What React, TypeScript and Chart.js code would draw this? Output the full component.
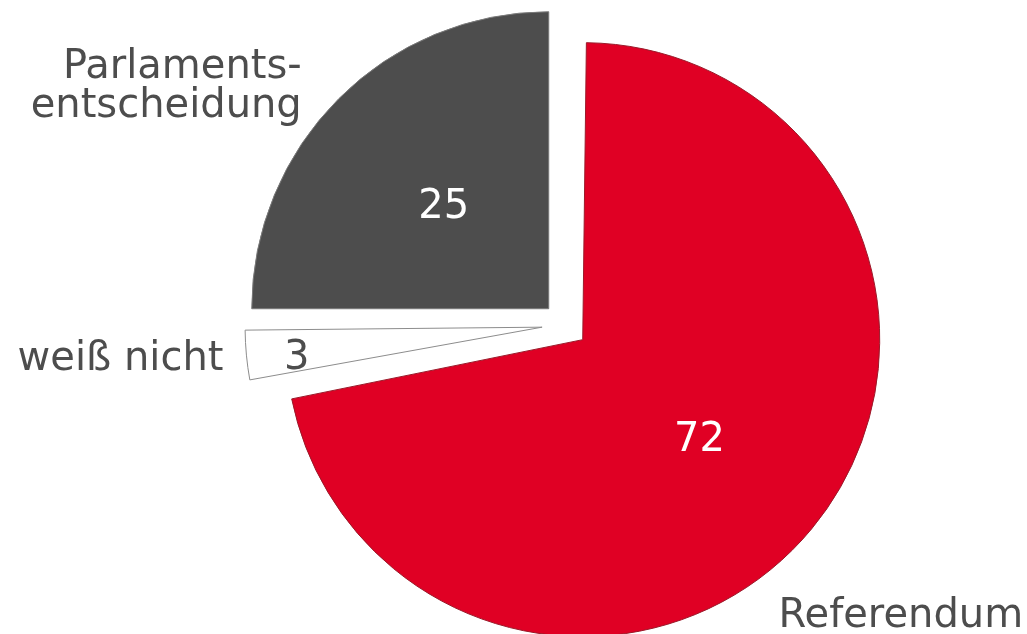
import React, { useEffect, useRef } from "react";
import { Chart, registerables } from "chart.js";

Chart.register(...registerables);

const categories = ["Referendum", "weiß nicht", "Parlamentsentscheidung"];
const categoryLines = [["Referendum"], ["weiß nicht"], ["Parlaments-", "entscheidung"]];
const values = [72, 3, 25];
const sliceColors = ["#E00024", "#FFFFFF", "#4D4D4D"];
const borderColors = ["#9a1a2a", "#8c8c8c", "#7a7a7a"];
const valueColors = ["#FFFFFF", "#4D4D4D", "#FFFFFF"];

const RADIUS = 297;
const EXPLODE = 23;
const FONT = '40px "DejaVu Sans", Verdana, sans-serif';
const TEXT = "#4D4D4D";

// label styling (relative to slice geometry)
const valueFrac = [0.51, 0.83, 0.5];
const valueDy = [0, 4, 0];
const catAlign: CanvasTextAlign[] = ["left", "right", "right"];
const catDx = [-33, -23, -37];
const catDy = [98, 15, -21];
const lineGap = 39;

const fixRadius = {
  id: "fixRadius",
  afterDatasetsUpdate(chart: any) {
    const meta = chart.getDatasetMeta(0);
    meta.data.forEach((arc: any) => {
      const c = arc.endAngle - arc.startAngle;
      const fix = 1 - Math.sin(Math.min(Math.PI, c));
      arc.outerRadius = RADIUS - EXPLODE * fix;
    });
  },
};

const labels = {
  id: "pieLabels",
  afterDraw(chart: any) {
    const ctx = chart.ctx;
    const meta = chart.getDatasetMeta(0);
    ctx.save();
    ctx.font = FONT;
    meta.data.forEach((arc: any, i: number) => {
      const mid = (arc.startAngle + arc.endAngle) / 2;
      const dx = Math.cos(mid);
      const dy = Math.sin(mid);
      const cx = arc.x + dx * EXPLODE;
      const cy = arc.y + dy * EXPLODE;
      // value
      const vx = cx + dx * RADIUS * valueFrac[i];
      const vy = cy + dy * RADIUS * valueFrac[i] + valueDy[i];
      ctx.fillStyle = valueColors[i];
      ctx.textAlign = "center";
      ctx.textBaseline = "alphabetic";
      ctx.fillText(String(values[i]), vx, vy + 14.5);
      // category
      const ox = cx + dx * RADIUS + catDx[i];
      const oy = cy + dy * RADIUS + catDy[i];
      ctx.fillStyle = TEXT;
      ctx.textAlign = catAlign[i];
      categoryLines[i].forEach((line, k) => {
        ctx.fillText(line, ox, oy + k * lineGap);
      });
    });
    ctx.restore();
  },
};

export default function App() {
  const ref = useRef<HTMLCanvasElement | null>(null);
  useEffect(() => {
    if (!ref.current) return;
    const chart = new Chart(ref.current, {
      type: "pie",
      data: {
        labels: categories,
        datasets: [
          {
            data: values,
            backgroundColor: sliceColors,
            borderColor: borderColors,
            borderWidth: 1,
            offset: EXPLODE * 4,
            radius: RADIUS,
          } as any,
        ],
      },
      options: {
        responsive: false,
        animation: false,
        layout: { padding: { left: 103, right: 0, top: 16, bottom: 0 } },
        plugins: {
          legend: { display: false },
          tooltip: { enabled: false },
        },
      },
      plugins: [fixRadius, labels],
    });
    return () => chart.destroy();
  }, []);
  return (
    <div style={{ position: "absolute", left: 0, top: 0, width: 1027, height: 634, background: "#fff" }}>
      <canvas ref={ref} width={1027} height={634} style={{ width: 1027, height: 634, display: "block" }} />
    </div>
  );
}
